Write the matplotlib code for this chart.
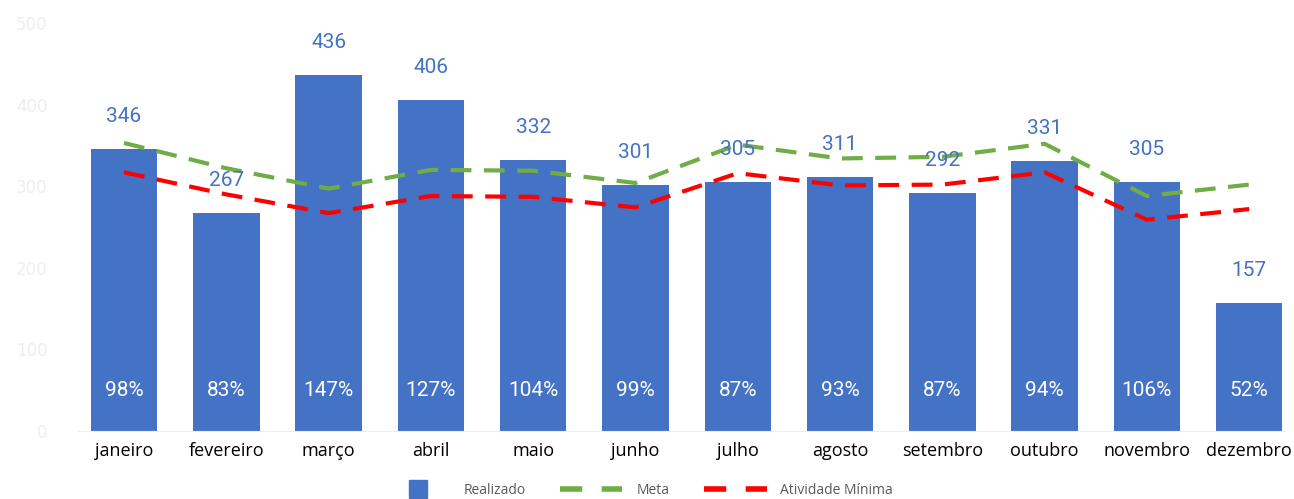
import matplotlib
matplotlib.use("Agg")
import matplotlib.pyplot as plt
from matplotlib.lines import Line2D

meses = ["janeiro", "fevereiro", "março", "abril", "maio", "junho",
         "julho", "agosto", "setembro", "outubro", "novembro", "dezembro"]
realizado = [346, 267, 436, 406, 332, 301, 305, 311, 292, 331, 305, 157]
meta = [353, 322, 297, 320, 319, 304, 351, 334, 336, 352, 288, 302]
atividade_minima = [317, 290, 267, 288, 287, 274, 316, 301, 302, 317, 259, 272]
percentual = ["98%", "83%", "147%", "127%", "104%", "99%",
              "87%", "93%", "87%", "94%", "106%", "52%"]

azul = "#4472C4"
verde = "#70AD47"
vermelho = "#FF0000"

fig = plt.figure(figsize=(12.94, 4.99), dpi=100)
ax = fig.add_axes([78 / 1294, 0.136, (1285 - 78) / 1294, 0.818])

x = list(range(len(meses)))
ax.bar(x, realizado, width=0.65, color=azul, zorder=2)
ax.plot(x, meta, color=verde, lw=3, dashes=(5, 3), zorder=3)
ax.plot(x, atividade_minima, color=vermelho, lw=3, dashes=(5, 3), zorder=3)

for i, v in enumerate(realizado):
    ax.text(i, v + 40, str(v), ha="center", va="center", color=azul,
            fontsize=15, family="Roboto", zorder=4)
    ax.text(i, 50, percentual[i], ha="center", va="center", color="white",
            fontsize=15, family="Roboto", zorder=4)

ax.set_xlim(-0.45, 11.35)
ax.set_ylim(0, 500)
ax.set_yticks([0, 100, 200, 300, 400, 500])
ax.tick_params(axis="y", length=0, labelcolor="#eeeeee", labelsize=12, pad=22)
ax.set_xticks(x)
ax.set_xticklabels(meses, fontsize=13, family="Open Sans", color="#000000")
ax.tick_params(axis="x", length=0, pad=8)
for s in ["top", "right", "left"]:
    ax.spines[s].set_visible(False)
ax.spines["bottom"].set_color("#eeeeee")

handles = [
    Line2D([0], [0], color=azul, marker="s", markersize=13, linestyle="none",
           label="Realizado"),
    Line2D([0], [0], color=verde, lw=4, dashes=(4, 3.5), label="Meta"),
    Line2D([0], [0], color=vermelho, lw=4, dashes=(4, 3.5), label="Atividade Mínima"),
]
fig.legend(handles=handles, loc="center", bbox_to_anchor=(640 / 1294, 0.018),
           ncol=3, frameon=False, labelcolor="#595959", handletextpad=1.0,
           handlelength=4.5, columnspacing=2.5, prop={"family": "Open Sans", "size": 10})

fig.savefig("out.png", dpi=100)
